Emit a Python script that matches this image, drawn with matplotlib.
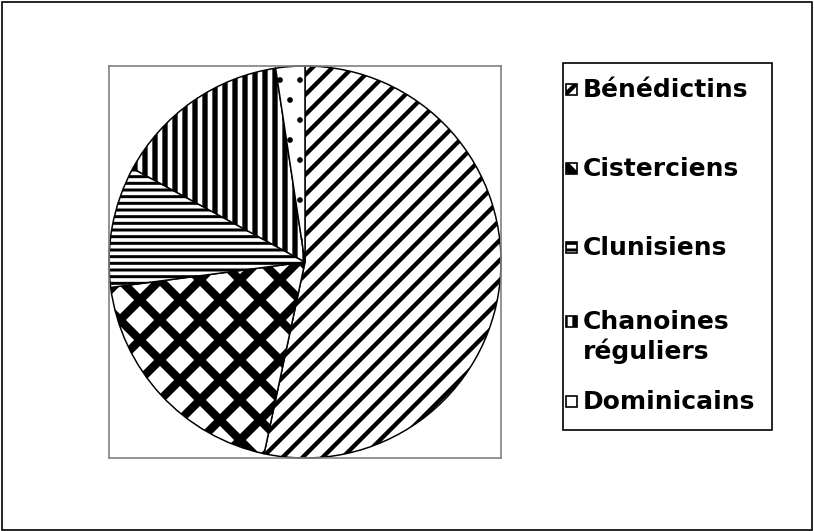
import matplotlib.pyplot as plt
from matplotlib.patches import Rectangle

# religious orders, share of foundations (%)
orders = ['Bénédictins', 'Cisterciens', 'Clunisiens', 'Chanoines\nréguliers', 'Dominicains']
shares = [53.4, 19.6, 10.0, 14.7, 2.4]
hatches = ['//', 'x', '---', '||', '.']
hatch_widths = [2.6, 5.0, 1.8, 3.2, 1.0]

W, H, DPI = 814, 531, 120
fig = plt.figure(figsize=(W / DPI, H / DPI), dpi=DPI)
fig.patch.set_facecolor('white')


def px(x, y):
    # pixel (top-left origin) -> figure fraction
    return x / W, 1 - y / H


# outer chart border
fig.patches.append(Rectangle((0.002, 0.002), 0.995, 0.994, transform=fig.transFigure,
                             fill=False, edgecolor='black', lw=1.0))

# plot area
x0, y0 = px(109, 458)
ax = fig.add_axes([x0, y0, 392 / W, 392 / H])
wedges, _ = ax.pie(shares, startangle=90, counterclock=False, radius=1,
                   colors=['white'] * len(shares),
                   wedgeprops=dict(edgecolor='black', linewidth=0.9))
for w, h, lw in zip(wedges, hatches, hatch_widths):
    w.set_hatch(h)
    if hasattr(w, 'set_hatch_linewidth'):
        w.set_hatch_linewidth(lw)
ax.set_xlim(-1.0, 1.0)
ax.set_ylim(-1.0, 1.0)
ax.set_aspect('auto')
ax.set_frame_on(True)
ax.set_xticks([])
ax.set_yticks([])
for s in ax.spines.values():
    s.set_visible(True)
    s.set_edgecolor('#808080')
    s.set_linewidth(1.0)

# legend, drawn by hand to keep Excel's spacing
lx0, ly0 = px(563, 430)
lx1, ly1 = px(772, 63)
fig.patches.append(Rectangle((lx0, ly0), lx1 - lx0, ly1 - ly0, transform=fig.transFigure,
                             fill=False, edgecolor='black', lw=1.0))
entry_y = [90, 169, 248, 322, 402]
for name, h, lw, yy in zip(orders, hatches, hatch_widths, entry_y):
    bx, by = px(566, yy + 5)
    r = Rectangle((bx, by), 11 / W, 11 / H, transform=fig.transFigure,
                  facecolor='white', edgecolor='black', lw=1.0, hatch=h)
    if hasattr(r, 'set_hatch_linewidth'):
        r.set_hatch_linewidth(lw)
    fig.patches.append(r)
    nlines = name.count('\n') + 1
    tx, ty = px(583, yy + 15 * (nlines - 1))
    fig.text(tx, ty, name, ha='left', va='center',
             fontsize=15, fontweight='bold', family='DejaVu Sans',
             linespacing=1.2)

fig.savefig('out.png', dpi=DPI)
